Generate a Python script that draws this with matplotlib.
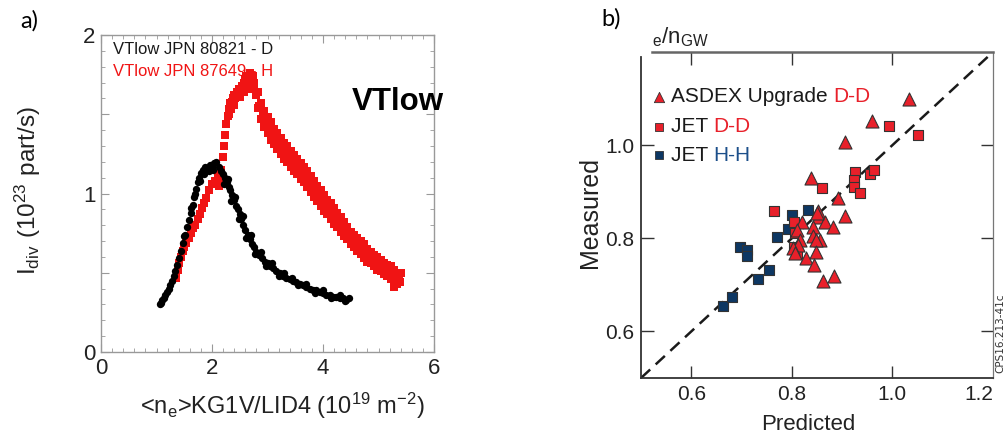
import matplotlib
matplotlib.use("Agg")
import matplotlib.pyplot as plt
from matplotlib import font_manager
from matplotlib.ticker import MultipleLocator, FixedLocator
import numpy as np

# ---------------- data: panel a ----------------
black_x = [1.06, 1.08, 1.10, 1.13, 1.16, 1.19, 1.22, 1.25, 1.28, 1.31, 1.34, 1.37, 1.40, 1.44,
           1.48, 1.52, 1.55, 1.58, 1.62, 1.65, 1.68, 1.71, 1.74, 1.77, 1.80, 1.84, 1.88, 1.92,
           1.96, 2.00, 2.04, 2.08, 2.12, 1.50, 1.63, 1.70, 1.78, 1.86, 1.95, 2.02,
           2.16, 2.20, 2.24, 2.27, 2.30, 2.33, 2.36, 2.40, 2.43, 2.46, 2.50, 2.53, 2.56, 2.60,
           2.64, 2.68, 2.72, 2.76, 2.80, 2.85, 2.90, 2.95, 3.00, 3.05, 3.10, 3.16, 3.22, 3.28,
           3.34, 3.40, 3.46, 3.52, 3.58, 3.64, 3.70, 3.76, 3.82, 3.88, 3.94, 4.00, 4.06, 4.12,
           4.18, 4.24, 4.30, 4.36, 4.42, 4.46,
           2.22, 2.28, 2.35, 2.42, 2.48, 2.55, 2.62, 2.70, 2.78, 2.88, 2.98, 3.08, 3.20, 3.30,
           3.45, 3.55, 3.70, 3.85, 4.00, 4.15, 4.30, 4.40]
black_y = [0.30, 0.31, 0.33, 0.34, 0.36, 0.38, 0.40, 0.42, 0.45, 0.48, 0.51, 0.55, 0.59, 0.64,
           0.69, 0.74, 0.79, 0.83, 0.88, 0.93, 0.98, 1.03, 1.07, 1.10, 1.13, 1.15, 1.17, 1.16,
           1.18, 1.17, 1.19, 1.20, 1.17, 0.73, 0.91, 1.00, 1.08, 1.12, 1.14, 1.15,
           1.14, 1.12, 1.10, 1.07, 1.04, 1.02, 0.99, 0.96, 0.92, 0.90, 0.87, 0.84, 0.80, 0.77,
           0.74, 0.71, 0.68, 0.66, 0.63, 0.61, 0.59, 0.57, 0.56, 0.54, 0.53, 0.51, 0.50, 0.48,
           0.47, 0.46, 0.45, 0.44, 0.43, 0.42, 0.41, 0.40, 0.39, 0.39, 0.38, 0.37, 0.36, 0.36,
           0.35, 0.35, 0.34, 0.34, 0.33, 0.34,
           1.06, 1.09, 0.95, 0.98, 0.84, 0.86, 0.72, 0.74, 0.62, 0.63, 0.54, 0.56, 0.48, 0.50,
           0.47, 0.42, 0.43, 0.37, 0.39, 0.34, 0.36, 0.32]

# red: rising edge and peak
red_rise_x = [1.36, 1.38, 1.41, 1.44, 1.47, 1.50, 1.54, 1.58, 1.62, 1.66, 1.70, 1.74, 1.78, 1.82,
              1.86, 1.90, 1.95, 2.00, 2.05, 2.10, 2.14, 2.17, 2.13, 2.19, 2.21, 2.23,
              2.25, 2.28, 2.30, 2.33, 2.36, 2.39, 2.42, 2.45, 2.48, 2.51, 2.54, 2.57, 2.60, 2.63,
              2.66, 2.69, 2.72, 2.75, 2.35, 2.40, 2.50, 2.58, 2.65,
              2.30, 2.34, 2.38, 2.46, 2.55, 2.62, 2.68, 2.74, 2.70, 2.60]
red_rise_y = [0.47, 0.52, 0.56, 0.60, 0.64, 0.66, 0.69, 0.72, 0.75, 0.78, 0.80, 0.84, 0.87, 0.91,
              0.94, 0.97, 1.02, 1.06, 1.08, 1.12, 1.10, 1.15, 1.05, 1.23, 1.30, 1.37,
              1.44, 1.49, 1.53, 1.57, 1.58, 1.62, 1.60, 1.64, 1.66, 1.65, 1.68, 1.70, 1.72, 1.69,
              1.74, 1.71, 1.73, 1.68, 1.53, 1.56, 1.61, 1.64, 1.66,
              1.50, 1.55, 1.60, 1.62, 1.66, 1.74, 1.76, 1.74, 1.66, 1.66]
# red: falling edge, upper / middle / lower part of the band
red_up_x = [2.76, 2.82, 2.88, 2.94, 3.00, 3.06, 3.12, 3.18, 3.24, 3.30, 3.36, 3.42, 3.48, 3.54,
            3.60, 3.66, 3.72, 3.78, 3.84, 3.90, 3.96, 4.02, 4.08, 4.14, 4.20, 4.26, 4.32, 4.38,
            4.44, 4.50, 4.56, 4.62, 4.68, 4.74, 4.80, 4.86, 4.92, 4.98, 5.04, 5.10, 5.16, 5.22,
            5.28, 5.34, 5.40]
red_up_y = [1.70, 1.64, 1.57, 1.52, 1.48, 1.45, 1.41, 1.38, 1.35, 1.32, 1.30, 1.27, 1.24, 1.22,
            1.19, 1.17, 1.14, 1.11, 1.08, 1.05, 1.02, 0.99, 0.96, 0.94, 0.91, 0.88, 0.85, 0.82,
            0.79, 0.76, 0.74, 0.72, 0.70, 0.68, 0.65, 0.63, 0.61, 0.60, 0.58, 0.56, 0.55, 0.54,
            0.52, 0.50, 0.50]
red_mid_x = [2.79, 2.85, 2.91, 2.97, 3.03, 3.09, 3.15, 3.21, 3.27, 3.33, 3.39, 3.45, 3.51, 3.57,
             3.63, 3.69, 3.75, 3.81, 3.87, 3.93, 3.99, 4.05, 4.11, 4.17, 4.23, 4.29, 4.35, 4.41,
             4.47, 4.53, 4.59, 4.65, 4.71, 4.77, 4.83, 4.89, 4.95, 5.01, 5.07, 5.13, 5.19, 5.25,
             5.31, 5.37]
red_mid_y = [1.62, 1.55, 1.49, 1.45, 1.42, 1.38, 1.35, 1.31, 1.29, 1.26, 1.23, 1.21, 1.18, 1.15,
             1.13, 1.10, 1.07, 1.04, 1.02, 0.99, 0.96, 0.93, 0.90, 0.87, 0.85, 0.82, 0.79, 0.76,
             0.73, 0.71, 0.69, 0.67, 0.65, 0.62, 0.60, 0.59, 0.57, 0.55, 0.54, 0.52, 0.51, 0.49,
             0.48, 0.46]
red_lo_x = [2.82, 2.88, 2.94, 3.00, 3.06, 3.12, 3.18, 3.24, 3.30, 3.36, 3.42, 3.48, 3.54, 3.60,
            3.66, 3.72, 3.78, 3.84, 3.90, 3.96, 4.02, 4.08, 4.14, 4.20, 4.26, 4.32, 4.38, 4.44,
            4.50, 4.56, 4.62, 4.68, 4.74, 4.80, 4.86, 4.92, 4.98, 5.04, 5.10, 5.16, 5.22, 5.28,
            5.33, 5.38]
red_lo_y = [1.54, 1.47, 1.42, 1.38, 1.34, 1.31, 1.28, 1.25, 1.22, 1.20, 1.17, 1.14, 1.12, 1.09,
            1.07, 1.04, 1.01, 0.98, 0.95, 0.92, 0.89, 0.87, 0.84, 0.81, 0.79, 0.76, 0.73, 0.71,
            0.68, 0.66, 0.64, 0.62, 0.59, 0.57, 0.56, 0.54, 0.52, 0.51, 0.49, 0.48, 0.46, 0.41,
            0.43, 0.44]

# ---------------- data: panel b ----------------
hh_x = [0.663, 0.680, 0.697, 0.710, 0.710, 0.732, 0.755, 0.770, 0.792, 0.801, 0.832]
hh_y = [0.654, 0.675, 0.782, 0.774, 0.761, 0.713, 0.732, 0.802, 0.821, 0.851, 0.861]

jdd_x = [0.764, 0.805, 0.807, 0.804, 0.810, 0.860, 0.925, 0.923, 0.924, 0.935, 0.955, 0.963, 0.993, 1.051]
jdd_y = [0.859, 0.835, 0.811, 0.782, 0.768, 0.909, 0.943, 0.925, 0.911, 0.898, 0.938, 0.946, 1.041, 1.022]

aug_x = [1.032, 0.959, 0.905, 0.838, 0.891, 0.905, 0.852, 0.851, 0.820, 0.843, 0.866, 0.882,
         0.810, 0.843, 0.856, 0.817, 0.813, 0.803, 0.848, 0.848, 0.828, 0.844, 0.862, 0.884,
         0.807, 0.850]
aug_y = [1.100, 1.052, 1.006, 0.929, 0.887, 0.848, 0.859, 0.846, 0.836, 0.825, 0.834, 0.825,
         0.818, 0.804, 0.796, 0.796, 0.786, 0.779, 0.796, 0.771, 0.757, 0.743, 0.709, 0.718,
         0.768, 0.855]

a_xticks = [0, 2, 4, 6]
b_ticks = [0.6, 0.8, 1.0]
b_xticklabels = ["0.6", "0.8", "1.0", "1.2"]

# ---------------- fonts ----------------
def have(name):
    try:
        font_manager.findfont(font_manager.FontProperties(family=name), fallback_to_default=False)
        return True
    except Exception:
        return False

SANS = "Liberation Sans" if have("Liberation Sans") else "DejaVu Sans"
NARROW = "Liberation Sans Narrow" if have("Liberation Sans Narrow") else SANS
LBL = "Lato" if have("Lato") else SANS

RED_A = "#f01414"
RED_B = "#e8202a"
NAVY = "#0d3763"
BLUE_TXT = "#1c4f8a"

fig = plt.figure(figsize=(10.06, 4.41), dpi=100)

# ================= panel a =================
axa = fig.add_axes([101 / 1006, 1 - 352 / 441, 333 / 1006, 317 / 441])
axa.scatter(black_x, black_y, s=28, marker="o", color="black", linewidths=0, zorder=3)
for xs, ys in [(red_rise_x, red_rise_y), (red_up_x, red_up_y), (red_mid_x, red_mid_y), (red_lo_x, red_lo_y)]:
    axa.scatter(xs, ys, s=32, marker="s", color=RED_A, linewidths=0, zorder=2)
axa.set_xlim(0, 6)
axa.set_ylim(0, 2)
axa.xaxis.set_major_locator(FixedLocator(a_xticks))
axa.xaxis.set_minor_locator(MultipleLocator(0.2))
axa.yaxis.set_minor_locator(MultipleLocator(0.1))
axa.set_xticklabels([str(t) for t in a_xticks])
axa.set_yticks([0, 0.5, 1, 1.5, 2])
axa.set_yticklabels(["0", "", "1", "", "2"])
for sp in axa.spines.values():
    sp.set_color("#999999")
    sp.set_linewidth(1.0)
axa.tick_params(which="both", direction="in", top=True, right=True, color="#999999")
axa.tick_params(which="major", length=6, width=0.8, labelsize=16, labelcolor="#222222", pad=4)
axa.tick_params(which="minor", length=3, width=0.6)
for lab in axa.get_xticklabels() + axa.get_yticklabels():
    lab.set_fontfamily(SANS)

axa.text(0.036, 0.953, "VTlow JPN 80821 - D", transform=axa.transAxes, fontsize=12,
         family=SANS, color="#1a1a1a", va="center", ha="left")
axa.text(0.036, 0.886, "VTlow JPN 87649 - H", transform=axa.transAxes, fontsize=12,
         family=SANS, color=RED_A, va="center", ha="left", zorder=1)
fig.text(398 / 1006, 1 - 102 / 441, "VTlow", fontsize=22.5, fontweight="bold", family=SANS,
         ha="center", va="center", color="black")
fig.text(28 / 1006, 1 - 190 / 441, r"$\mathregular{I_{div}\ (10^{23}\ part/s)}$", rotation=90,
         fontsize=17.5, family=SANS, ha="center", va="center", color="#222222")
fig.text(282 / 1006, 1 - 406 / 441, r"<n$\mathregular{_e}$>KG1V/LID4 (10$\mathregular{^{19}}$ m$\mathregular{^{-2}}$)",
         fontsize=17, family=SANS, ha="center", va="center", color="#222222")
fig.text(29 / 1006, 1 - 21 / 441, "a)", fontsize=17, family=LBL, ha="center", va="center")

# ================= panel b =================
axb = fig.add_axes([641 / 1006, 1 - 378 / 441, 352 / 1006, 326 / 441])
axb.plot([0.5, 1.2], [0.5, 1.2], ls=(0, (5, 3)), color="#1a1a1a", lw=1.8, zorder=1)
axb.scatter(hh_x, hh_y, s=46, marker="s", color=NAVY, edgecolors="#333333", linewidths=0.8, zorder=2)
axb.scatter(jdd_x, jdd_y, s=46, marker="s", color=RED_B, edgecolors="#333333", linewidths=0.8, zorder=2)
axb.scatter(aug_x, aug_y, s=88, marker="^", color=RED_B, edgecolors="#333333", linewidths=0.8, zorder=3)
axb.set_xlim(0.5, 1.2)
axb.set_ylim(0.5, 1.2)
axb.set_xticks(b_ticks + [1.2])
axb.set_xticklabels(b_xticklabels)
axb.set_yticks(b_ticks)
axb.set_yticklabels(["0.6", "0.8", "1.0"])
axb.tick_params(direction="in", length=9, width=1.0, top=True, right=True, color="#333333",
                labelsize=15, labelcolor="#222222", pad=5)
axb.xaxis.get_major_ticks()[-1].tick1line.set_visible(False)
axb.xaxis.get_major_ticks()[-1].tick2line.set_visible(False)
for lab in axb.get_xticklabels() + axb.get_yticklabels():
    lab.set_fontfamily(NARROW)
axb.get_xticklabels()[-1].set_horizontalalignment("right")
axb.get_xticklabels()[-1].set_x(1.2 + 0.027)
axb.spines["left"].set_color("#333333")
axb.spines["left"].set_linewidth(1.3)
axb.spines["left"].set_bounds(0.5, 1.19)
axb.spines["bottom"].set_color("#333333")
axb.spines["bottom"].set_linewidth(1.3)
axb.spines["top"].set_color("#666666")
axb.spines["top"].set_linewidth(1.8)
axb.spines["top"].set_bounds(0.522, 1.2)
axb.spines["right"].set_color("#777777")
axb.spines["right"].set_linewidth(0.9)

# legend (hand placed)
leg_rows = [("^", RED_B, "ASDEX Upgrade ", "D-D", RED_B, 0.862),
            ("s", RED_B, "JET ", "D-D", RED_B, 0.770),
            ("s", NAVY, "JET ", "H-H", BLUE_TXT, 0.684)]
r = fig.canvas.get_renderer()
for mk, mc, t1, t2, c2, yy in leg_rows:
    axb.scatter([0.536], [0.5 + 0.7 * yy], s=55 if mk == "^" else 34, marker=mk, color=mc,
                edgecolors="#333333", linewidths=0.6, zorder=4)
    txt = axb.text(0.085, yy, t1, transform=axb.transAxes, fontsize=15, family=NARROW,
                   color="#1a1a1a", va="center", ha="left")
    bb = txt.get_window_extent(renderer=r)
    x2 = axb.transAxes.inverted().transform((bb.x1, bb.y0))[0]
    axb.text(x2, yy, t2, transform=axb.transAxes, fontsize=15, family=NARROW,
             color=c2, va="center", ha="left")

fig.text(652 / 1006, 1 - 37 / 441, r"$\mathregular{_e/n_{GW}}$", fontsize=16, family=NARROW,
         ha="left", va="center", color="#222222")
fig.text(590 / 1006, 1 - 212 / 441, "Measured", rotation=90, fontsize=18, family=SANS,
         ha="center", va="center", color="#222222")
fig.text(808 / 1006, 1 - 424 / 441, "Predicted", fontsize=16, family=NARROW,
         ha="center", va="center", color="#222222")
fig.text(1000 / 1006, 1 - 333 / 441, "CPS16.213-41c", rotation=90, fontsize=7.5,
         family="DejaVu Sans", ha="center", va="center", color="#333333")
fig.text(611 / 1006, 1 - 19 / 441, "b)", fontsize=17, family=LBL, ha="center", va="center")

fig.savefig("out.png", dpi=100)
